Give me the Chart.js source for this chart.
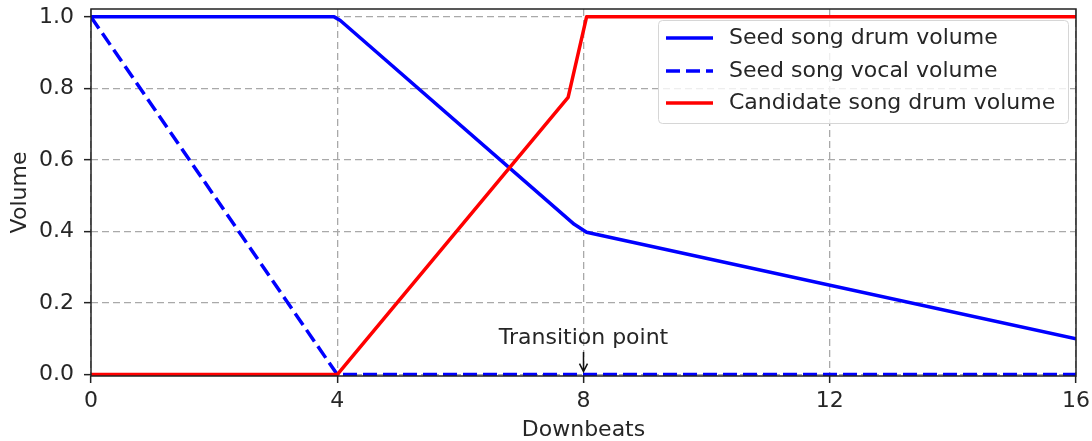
<!DOCTYPE html>
<html>
<head>
<meta charset="utf-8">
<script src="https://cdn.jsdelivr.net/npm/chart.js@4/dist/chart.umd.min.js"></script>
<style>
  html, body { margin: 0; padding: 0; background: #fff; }
  #wrap { width: 1092px; height: 441px; }
</style>
</head>
<body>
<div id="wrap"><canvas id="volume-chart" width="1092" height="441"></canvas></div>
<script>
// Dữ liệu đường cong âm lượng theo số nhịp
const xTicks = [0, 4, 8, 12, 16];
const yTicks = [0, 0.2, 0.4, 0.6, 0.8, 1.0];

const seedDrumX = [0, 3.95, 4.05, 7.85, 8.05, 16];
const seedDrumY = [1, 1, 0.99, 0.42, 0.398, 0.1];

const seedVocalX = [0, 4, 16];
const seedVocalY = [1, 0, 0];

const candDrumX = [0, 4, 7.75, 8.05, 16];
const candDrumY = [0, 0, 0.775, 1, 1];

const seriesLabels = ["Seed song drum volume", "Seed song vocal volume", "Candidate song drum volume"];
const transitionX = 8;
const transitionLabel = "Transition point";

const FONT = "DejaVu Sans";
const FONT_SIZE = 22;
const TEXT = "#262626";

function toPoints(xs, ys) {
  return xs.map((x, i) => ({ x: x, y: ys[i] }));
}

// Khung, tiêu đề trục, chú thích và mũi tên
const decorPlugin = {
  id: "decor",
  afterDatasetsDraw(chart) {
    const ctx = chart.ctx;
    const a = chart.chartArea;
    const xs = chart.scales.x;
    const ys = chart.scales.y;
    ctx.save();

    // khung trục
    ctx.strokeStyle = "#222";
    ctx.lineWidth = 1.5;
    ctx.setLineDash([]);
    ctx.strokeRect(a.left, a.top, a.right - a.left, a.bottom - a.top);

    // tiêu đề trục
    ctx.fillStyle = TEXT;
    ctx.font = FONT_SIZE + "px '" + FONT + "'";
    ctx.textAlign = "center";
    ctx.textBaseline = "middle";
    ctx.fillText("Downbeats", (a.left + a.right) / 2, 430);
    ctx.save();
    ctx.translate(20, (a.top + a.bottom) / 2);
    ctx.rotate(-Math.PI / 2);
    ctx.fillText("Volume", 0, 0);
    ctx.restore();

    // chú thích điểm chuyển tiếp
    const px = xs.getPixelForValue(transitionX);
    const py = ys.getPixelForValue(0);
    ctx.fillText(transitionLabel, px, 338);
    ctx.strokeStyle = "#111";
    ctx.lineWidth = 1.5;
    ctx.beginPath();
    ctx.moveTo(px, 352);
    ctx.lineTo(px, py - 3);
    ctx.moveTo(px - 4, py - 11);
    ctx.lineTo(px, py - 3);
    ctx.lineTo(px + 4, py - 11);
    ctx.stroke();

    // hộp chú giải
    const bx = 658, by = 20, bw = 410, bh = 103;
    ctx.fillStyle = "rgba(255,255,255,0.8)";
    ctx.strokeStyle = "#d6d6d6";
    ctx.lineWidth = 1;
    ctx.beginPath();
    ctx.roundRect(bx + 0.5, by + 0.5, bw, bh, 4);
    ctx.fill();
    ctx.stroke();

    const rows = [38, 71, 103];
    chart.data.datasets.forEach((ds, i) => {
      ctx.strokeStyle = ds.borderColor;
      ctx.lineWidth = ds.borderWidth;
      ctx.setLineDash(ds.borderDash || []);
      ctx.beginPath();
      ctx.moveTo(666, rows[i]);
      ctx.lineTo(713, rows[i]);
      ctx.stroke();
      ctx.setLineDash([]);
      ctx.fillStyle = TEXT;
      ctx.textAlign = "left";
      ctx.fillText(ds.label, 729, rows[i]);
    });

    ctx.restore();
  },
};

const gridOpts = {
  color: "#a9a9a9",
  lineWidth: 1.3,
  tickColor: "#222",
  tickLength: 7,
  tickWidth: 1.5,
  tickBorderDash: [],
};

new Chart(document.getElementById("volume-chart").getContext("2d"), {
  type: "line",
  data: {
    datasets: [
      {
        label: seriesLabels[0],
        data: toPoints(seedDrumX, seedDrumY),
        borderColor: "#0000ff",
        borderWidth: 3.5,
        order: 2,
      },
      {
        label: seriesLabels[1],
        data: toPoints(seedVocalX, seedVocalY),
        borderColor: "#0000ff",
        borderWidth: 3.5,
        borderDash: [14, 6],
        order: 1,
      },
      {
        label: seriesLabels[2],
        data: toPoints(candDrumX, candDrumY),
        borderColor: "#ff0000",
        borderWidth: 3.5,
        order: 0,
      },
    ],
  },
  options: {
    responsive: false,
    animation: false,
    events: [],
    elements: {
      point: { radius: 0 },
      line: { tension: 0, borderCapStyle: "butt", borderJoinStyle: "round" },
    },
    layout: { padding: { top: 9, right: 16, left: 0, bottom: 0 } },
    plugins: {
      legend: { display: false },
      tooltip: { enabled: false },
    },
    scales: {
      x: {
        type: "linear",
        min: 0,
        max: 16,
        afterBuildTicks: (s) => { s.ticks = xTicks.map((v) => ({ value: v })); },
        afterFit: (s) => {
          s.height = 65;
          s.paddingLeft = 0;
          s.paddingRight = 0;
        },
        grid: gridOpts,
        border: { display: false, dash: [7, 4] },
        ticks: {
          color: TEXT,
          font: { family: FONT, size: FONT_SIZE },
          padding: 5,
          maxRotation: 0,
        },
      },
      y: {
        type: "linear",
        min: -0.004,
        max: 1.022,
        afterBuildTicks: (s) => { s.ticks = yTicks.map((v) => ({ value: v })); },
        afterFit: (s) => {
          s.width = 91;
          s.paddingTop = 0;
          s.paddingBottom = 0;
        },
        grid: gridOpts,
        border: { display: false, dash: [7, 4] },
        ticks: {
          color: TEXT,
          font: { family: FONT, size: FONT_SIZE },
          padding: 10,
          callback: (v) => v.toFixed(1),
        },
      },
    },
  },
  plugins: [decorPlugin],
});
</script>
</body>
</html>
